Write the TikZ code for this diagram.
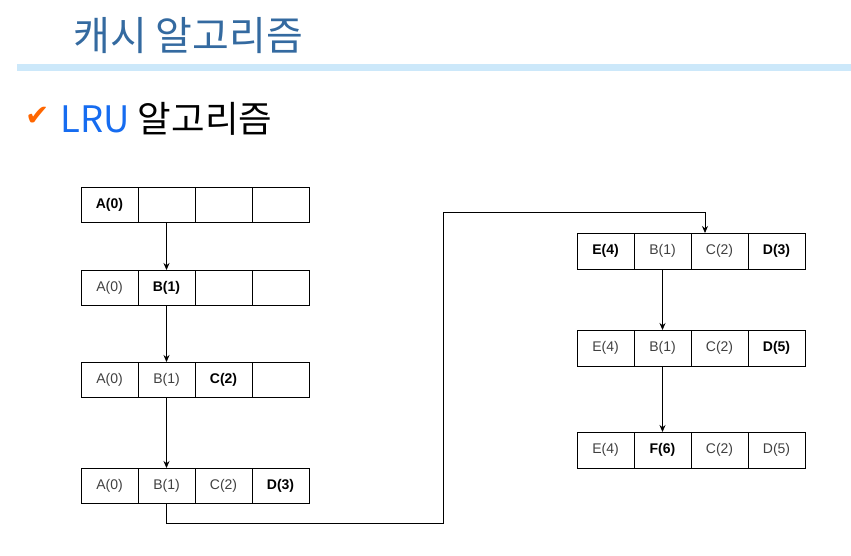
\documentclass[tikz,border=0pt]{standalone}
\usepackage{fontspec}
\setmainfont{Liberation Sans}
\newfontfamily\krfont{Noto Sans CJK KR}
\newfontfamily\symfont{DejaVu Sans}
\usetikzlibrary{positioning,arrows.meta}
\definecolor{titleblue}{RGB}{52,106,160}
\definecolor{barblue}{RGB}{204,232,250}
\definecolor{lrublue}{RGB}{22,108,240}
\definecolor{checkorange}{RGB}{255,102,0}
\definecolor{oldgray}{RGB}{64,64,64}

\begin{document}
\begin{tikzpicture}[x=1pt, y=-1pt, ->, >={Stealth[length=7pt,width=6pt]}, line width=0.8pt]
\tikzstyle{cell}=[draw=black, line width=0.8pt, outer sep=0pt, minimum width=57pt, minimum height=35pt, inner sep=0pt, font=\fontsize{14}{16}\selectfont, text=oldgray]
\tikzstyle{hit}=[cell, text=black, font=\fontsize{14}{16}\selectfont\bfseries]
\tikzstyle{tall}=[minimum height=36pt]
\useasboundingbox (0,0) rectangle (851,555);

% heading
\node[anchor=west, inner sep=0pt, text=titleblue, font=\krfont\fontsize{40}{44}\selectfont] (title) at (73,36) {캐시 알고리즘};
\fill[barblue] (17,64) rectangle (851,71);
\node[anchor=west, inner sep=0pt, text=checkorange, font=\symfont\fontsize{29}{32}\selectfont] (check) at (25,116) {✔};
\node[anchor=west, inner sep=0pt, font=\krfont\fontsize{36.5}{40}\selectfont] (sub) at (60,119) {\textcolor{lrublue}{LRU} 알고리즘};

% left column
\node[hit]  (r1c1) at (109.5,204.5)    {A(0)};
\node[cell] (r1c2) [right=0pt of r1c1] {};
\node[cell] (r1c3) [right=0pt of r1c2] {};
\node[cell] (r1c4) [right=0pt of r1c3] {};

\node[cell] (r2c1) [below=48pt of r1c1] {A(0)};
\node[hit]  (r2c2) [right=0pt of r2c1]  {B(1)};
\node[cell] (r2c3) [right=0pt of r2c2]  {};
\node[cell] (r2c4) [right=0pt of r2c3]  {};

\node[cell] (r3c1) [below=57pt of r2c1] {A(0)};
\node[cell] (r3c2) [right=0pt of r3c1]  {B(1)};
\node[hit]  (r3c3) [right=0pt of r3c2]  {C(2)};
\node[cell] (r3c4) [right=0pt of r3c3]  {};

\node[cell] (r4c1) [below=71pt of r3c1] {A(0)};
\node[cell] (r4c2) [right=0pt of r4c1]  {B(1)};
\node[cell] (r4c3) [right=0pt of r4c2]  {C(2)};
\node[hit]  (r4c4) [right=0pt of r4c3]  {D(3)};

% right column
\node[hit,tall]  (s1c1) at (605.5,251)      {E(4)};
\node[cell,tall] (s1c2) [right=0pt of s1c1] {B(1)};
\node[cell,tall] (s1c3) [right=0pt of s1c2] {C(2)};
\node[hit,tall]  (s1c4) [right=0pt of s1c3] {D(3)};

\node[cell,tall] (s2c1) [below=61pt of s1c1] {E(4)};
\node[cell,tall] (s2c2) [right=0pt of s2c1]  {B(1)};
\node[cell,tall] (s2c3) [right=0pt of s2c2]  {C(2)};
\node[hit,tall]  (s2c4) [right=0pt of s2c3]  {D(5)};

\node[cell,tall] (s3c1) [below=66pt of s2c1] {E(4)};
\node[hit,tall]  (s3c2) [right=0pt of s3c1]  {F(6)};
\node[cell,tall] (s3c3) [right=0pt of s3c2]  {C(2)};
\node[cell,tall] (s3c4) [right=0pt of s3c3]  {D(5)};

% connectors
\coordinate (low)  at (443,523);
\coordinate (high) at (705,212);
\draw (r1c2) -- (r2c2);
\draw (r2c2) -- (r3c2);
\draw (r3c2) -- (r4c2);
\draw (r4c2.south) |- (low) |- (high) -- (high |- s1c3.north);
\draw (s1c2) -- (s2c2);
\draw (s2c2) -- (s3c2);
\end{tikzpicture}
\end{document}
